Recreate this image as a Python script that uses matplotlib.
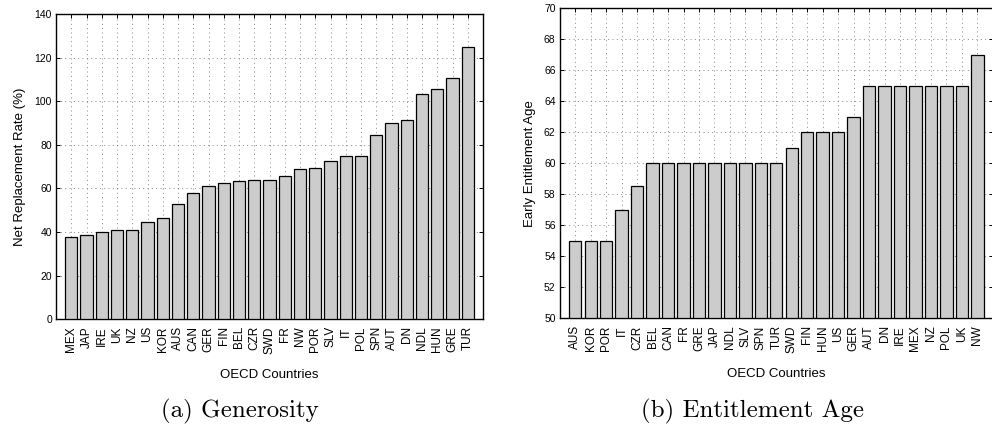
import numpy as np
import matplotlib.pyplot as plt

# (a) generosity: net replacement rate (%)
gen_countries = ["MEX", "JAP", "IRE", "UK", "NZ", "US", "KOR", "AUS", "CAN", "GER",
                 "FIN", "BEL", "CZR", "SWD", "FR", "NW", "POR", "SLV", "IT", "POL",
                 "SPN", "AUT", "DN", "NDL", "HUN", "GRE", "TUR"]
gen_rate = [37.9, 38.5, 39.9, 40.8, 41.0, 44.7, 46.5, 52.9, 57.8, 61.1,
            62.4, 63.6, 63.9, 63.9, 65.6, 69.1, 69.5, 72.6, 74.8, 74.8,
            84.5, 90.2, 91.2, 103.1, 105.5, 110.7, 124.7]

# (b) early entitlement age
age_countries = ["AUS", "KOR", "POR", "IT", "CZR", "BEL", "CAN", "FR", "GRE", "JAP",
                 "NDL", "SLV", "SPN", "TUR", "SWD", "FIN", "HUN", "US", "GER", "AUT",
                 "DN", "IRE", "MEX", "NZ", "POL", "UK", "NW"]
age_early = [55, 55, 55, 57, 58.5, 60, 60, 60, 60, 60,
             60, 60, 60, 60, 61, 62, 62, 62, 63, 65,
             65, 65, 65, 65, 65, 65, 67]

plt.rcParams['font.family'] = ['Liberation Sans', 'DejaVu Sans']

fig = plt.figure(figsize=(9.92, 4.29), dpi=100)
ax1 = fig.add_axes([0.0565, 0.2557, 0.4304, 0.7117])
ax2 = fig.add_axes([0.5643, 0.2580, 0.4365, 0.7233])


def bar_panel(ax, labels, vals, ylim, yticks, ylabel):
    x = np.arange(1, len(vals) + 1)
    ax.bar(x, [v - ylim[0] for v in vals], bottom=ylim[0], width=0.8,
           color="#cccccc", edgecolor="black", linewidth=0.9, zorder=3)
    ax.set_xlim(0, len(vals) + 1)
    ax.set_ylim(*ylim)
    ax.set_xticks(x)
    ax.set_xticklabels(labels, rotation=90, fontsize=8.5)
    ax.set_yticks(yticks)
    ax.tick_params(axis="y", labelsize=7.5, pad=3)
    ax.tick_params(axis="x", pad=5)
    ax.tick_params(direction="in", top=True, right=True, length=3, width=0.7)
    ax.grid(True, linestyle=(0, (1.2, 4.0)), color="#777777", linewidth=0.6, zorder=0)
    ax.set_axisbelow(True)
    for s in ax.spines.values():
        s.set_linewidth(1.0)
    ax.set_ylabel(ylabel, fontsize=9.5, labelpad=6)
    ax.set_xlabel("OECD Countries", fontsize=9.5, labelpad=11)


bar_panel(ax1, gen_countries, gen_rate, (0, 140), range(0, 141, 20),
          "Net Replacement Rate (%)")
bar_panel(ax2, age_countries, age_early, (50, 70), range(50, 71, 2),
          "Early Entitlement Age")

fig.text(0.242, 0.042, "(a) Generosity", fontsize=18, family="cmr10",
         ha="center", va="center")
fig.text(0.759, 0.042, "(b) Entitlement Age", fontsize=18, family="cmr10",
         ha="center", va="center")

fig.savefig("out.png", dpi=100)
